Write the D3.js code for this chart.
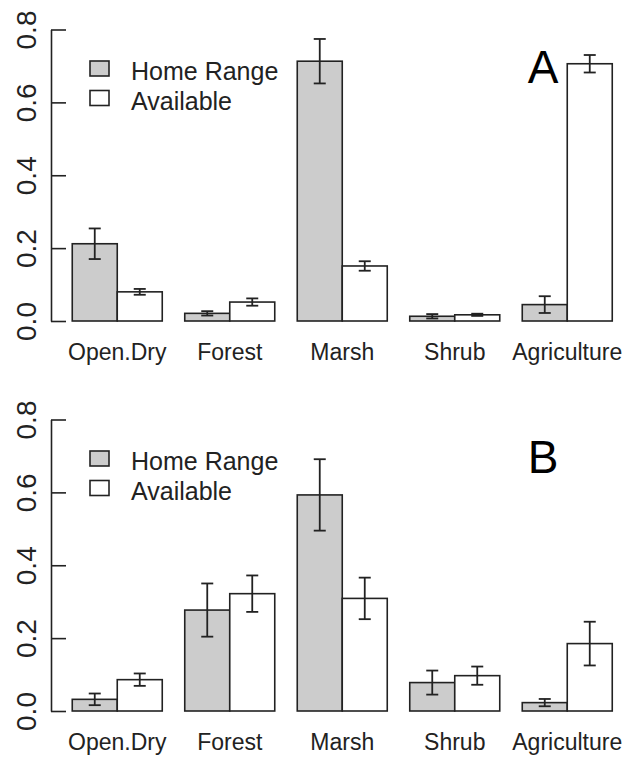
<!DOCTYPE html>
<html>
<head>
<meta charset="utf-8">
<script src="https://cdn.jsdelivr.net/npm/d3@7"></script>
<style>
  html, body { margin: 0; padding: 0; background: #fff; }
  svg { display: block; font-family: "Liberation Sans", Arial, Helvetica, sans-serif; }
</style>
</head>
<body>
<svg id="chart" width="626" height="757"></svg>
<script>
// Habitat categories and series
const categories = ["Open.Dry", "Forest", "Marsh", "Shrub", "Agriculture"];
const seriesNames = ["Home Range", "Available"];
const seriesFill = ["#cccccc", "#ffffff"];
const yTicks = [0.0, 0.2, 0.4, 0.6, 0.8];

// Panel A: mean proportion and standard error
const homeRangeA = [0.212, 0.021, 0.713, 0.013, 0.045];
const homeRangeErrA = [0.042, 0.006, 0.061, 0.006, 0.023];
const availableA = [0.080, 0.052, 0.151, 0.017, 0.706];
const availableErrA = [0.008, 0.010, 0.013, 0.003, 0.024];

// Panel B: mean proportion and standard error
const homeRangeB = [0.032, 0.277, 0.593, 0.078, 0.023];
const homeRangeErrB = [0.016, 0.073, 0.098, 0.033, 0.010];
const availableB = [0.086, 0.322, 0.309, 0.097, 0.185];
const availableErrB = [0.017, 0.050, 0.057, 0.025, 0.060];

const panels = [
  { label: "A", top: 0, values: [homeRangeA, availableA], errors: [homeRangeErrA, availableErrA] },
  { label: "B", top: 390, values: [homeRangeB, availableB], errors: [homeRangeErrB, availableErrB] }
];

const ink = "#222";
const svg = d3.select("#chart");

const x = d3.scaleBand()
  .domain(categories)
  .range([61, 623.5])
  .paddingInner(0.2)
  .paddingOuter(0.1);

const xSeries = d3.scaleBand()
  .domain(seriesNames)
  .range([0, x.bandwidth()])
  .padding(0);

panels.forEach(p => {
  const g = svg.append("g").attr("transform", `translate(0,${p.top})`);

  const y = d3.scaleLinear().domain([0, 0.8]).range([321, 29.5]);

  // Y axis with inward ticks and rotated labels
  const axis = g.append("g")
    .attr("transform", "translate(51,0)")
    .call(d3.axisLeft(y)
      .tickValues(yTicks)
      .tickFormat(d3.format(".1f"))
      .tickSizeInner(-15)
      .tickSizeOuter(0));
  axis.select(".domain").attr("stroke", ink).attr("stroke-width", 1.6);
  axis.selectAll(".tick line").attr("stroke", ink).attr("stroke-width", 1.6);
  axis.selectAll(".tick text")
    .attr("x", null)
    .attr("dy", null)
    .attr("transform", "translate(-15,0) rotate(-90)")
    .attr("text-anchor", "middle")
    .attr("font-size", 28)
    .attr("font-family", "Liberation Sans, Arial, sans-serif")
    .attr("fill", ink);

  // Bars
  const groups = g.selectAll(".grp")
    .data(categories)
    .join("g")
    .attr("class", "grp")
    .attr("transform", d => `translate(${x(d)},0)`);

  seriesNames.forEach((s, si) => {
    groups.append("rect")
      .attr("x", xSeries(s))
      .attr("width", xSeries.bandwidth())
      .attr("y", (d, i) => y(p.values[si][i]))
      .attr("height", (d, i) => y(0) - y(p.values[si][i]))
      .attr("fill", seriesFill[si])
      .attr("stroke", ink)
      .attr("stroke-width", 1.6);
  });

  // Error bars
  const capHalf = 6;
  seriesNames.forEach((s, si) => {
    groups.each(function(d, i) {
      const cx = xSeries(s) + xSeries.bandwidth() / 2;
      const v = p.values[si][i], e = p.errors[si][i];
      const hi = y(v + e), lo = y(v - e);
      const eg = d3.select(this).append("g")
        .attr("stroke", ink).attr("stroke-width", 1.8).attr("fill", "none");
      eg.append("line").attr("x1", cx).attr("x2", cx).attr("y1", hi).attr("y2", lo);
      eg.append("line").attr("x1", cx - capHalf).attr("x2", cx + capHalf).attr("y1", hi).attr("y2", hi);
      eg.append("line").attr("x1", cx - capHalf).attr("x2", cx + capHalf).attr("y1", lo).attr("y2", lo);
    });
  });

  // Category labels
  g.selectAll(".cat")
    .data(categories)
    .join("text")
    .attr("class", "cat")
    .attr("x", d => x(d) + x.bandwidth() / 2)
    .attr("y", 360)
    .attr("text-anchor", "middle")
    .attr("font-size", 23)
    .attr("fill", ink)
    .text(d => d);

  // Legend
  const leg = g.selectAll(".leg")
    .data(seriesNames)
    .join("g")
    .attr("class", "leg")
    .attr("transform", (d, i) => `translate(0,${i * 29.5})`);
  leg.append("rect")
    .attr("x", 90).attr("y", 61)
    .attr("width", 19).attr("height", 15)
    .attr("fill", (d, i) => seriesFill[i])
    .attr("stroke", ink).attr("stroke-width", 1.6);
  leg.append("text")
    .attr("x", 131)
    .attr("y", 80)
    .attr("font-size", 25)
    .attr("fill", ink)
    .text(d => d);

  // Panel letter
  g.append("text")
    .attr("x", 543)
    .attr("y", 83)
    .attr("text-anchor", "middle")
    .attr("font-size", 46)
    .attr("fill", "#000")
    .text(p.label);
});
</script>
</body>
</html>
